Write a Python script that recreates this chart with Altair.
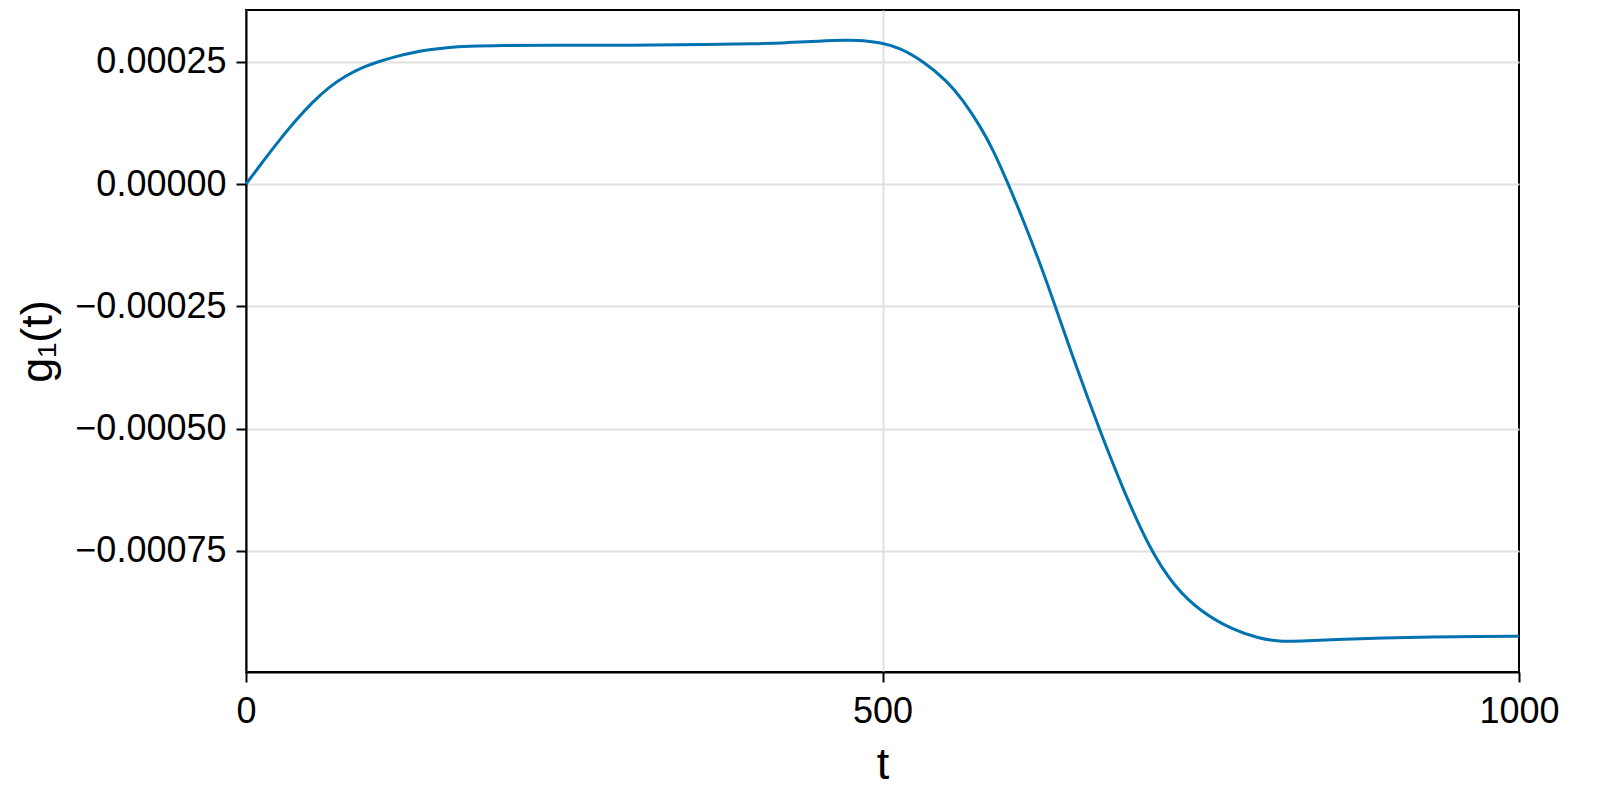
import altair as alt
import pandas as pd

t_vals = [0, 13.1, 26.2, 39.3, 52.4, 65.5, 78.6, 91.6, 104.7, 117.8, 131, 144, 157, 175,
          200, 240, 280, 320, 360, 400, 425, 450, 472, 485, 498, 513.8, 532, 550.4, 563.5,
          576.6, 587, 598.8, 610.6, 623, 634, 652.5, 669.5, 689, 710, 729, 750, 776, 796,
          810, 835, 854, 893, 932, 970, 1000]
# g values in units of 1e-5
g_vals_e5 = [0.0, 4.56, 9.0, 13.1, 16.8, 19.9, 22.2, 23.9, 25.1, 26.1, 26.9, 27.5, 27.9, 28.2,
             28.35, 28.4, 28.4, 28.42, 28.5, 28.7, 28.9, 29.25, 29.45, 29.4, 28.95, 27.9, 25.1,
             21.2, 17.1, 11.9, 7.0, 0.0, -7.4, -15.7, -23.7, -37.6, -49.6, -62.5, -74.7, -82.3,
             -87.5, -91.3, -92.9, -93.6, -93.4, -93.15, -92.8, -92.6, -92.5, -92.5]

x_ticks = [0, 500, 1000]
y_ticks = [-0.00075, -0.0005, -0.00025, 0.0, 0.00025]

df = pd.DataFrame({"t": t_vals, "g": [v * 1e-5 for v in g_vals_e5]})

FONT = "Liberation Sans"

common = dict(labelFontSize=36, titleFontSize=45, titleFontWeight="normal",
              tickSize=10, tickWidth=2, tickColor="black",
              domainColor="black", domainWidth=2,
              gridColor="#e0e0e0", gridWidth=2,
              labelColor="black", titleColor="black",
              labelFont=FONT, titleFont=FONT,
              labelFlush=False, labelOverlap=False)

chart = alt.Chart(df).mark_line(
    color="#0072B2", strokeWidth=3, interpolate="basis"
).encode(
    x=alt.X("t:Q", title="t",
            scale=alt.Scale(domain=[0, 1000], nice=False, zero=False),
            axis=alt.Axis(values=x_ticks, format="d",
                          labelPadding=12, titlePadding=13,
                          gridOpacity={"condition": {"test": "datum.value >= 1000", "value": 0}, "value": 1},
                          **common)),
    y=alt.Y("g:Q", title="g₁(t)",
            scale=alt.Scale(domain=[-0.000998, 0.000356], nice=False, zero=False),
            axis=alt.Axis(values=y_ticks, format=".5f",
                          labelPadding=10, titlePadding=14,
                          **common)),
).properties(
    width=1273, height=662,
    autosize=alt.AutoSizeParams(type="none"),
    padding={"left": 238, "top": 2, "right": 70, "bottom": 128},
).configure_view(
    stroke="black", strokeWidth=2
)

chart.save("out.html", embed_options={"renderer": "svg", "actions": False})
